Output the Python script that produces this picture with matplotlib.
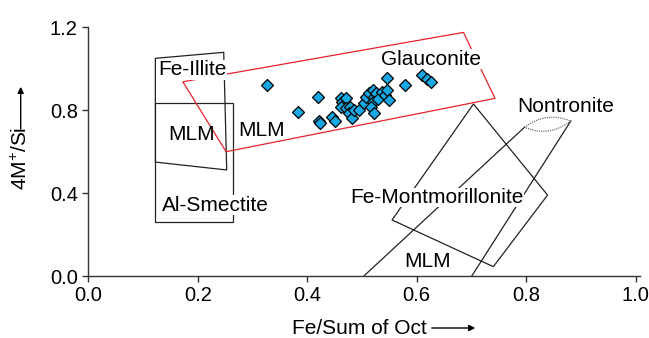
import matplotlib
matplotlib.use("Agg")
import matplotlib.pyplot as plt
from matplotlib.patches import Polygon, PathPatch, FancyArrowPatch
from matplotlib.path import Path

plt.rcParams['font.family'] = ['Liberation Sans', 'DejaVu Sans']
plt.rcParams['mathtext.fontset'] = 'custom'
plt.rcParams['mathtext.rm'] = 'Liberation Sans'
plt.rcParams['mathtext.default'] = 'regular'

# Sample points (Fe/Sum of Oct, 4M+/Si)
fe_oct = [0.326, 0.383, 0.420, 0.421, 0.424, 0.446, 0.451, 0.461, 0.464, 0.470,
          0.461, 0.470, 0.479, 0.476, 0.482, 0.485, 0.494, 0.504, 0.507, 0.513,
          0.520, 0.522, 0.525, 0.520, 0.516, 0.522, 0.530, 0.537, 0.542, 0.546,
          0.550, 0.546, 0.579, 0.610, 0.619, 0.627]
m_si = [0.920, 0.788, 0.865, 0.745, 0.735, 0.764, 0.747, 0.860, 0.840, 0.856,
        0.816, 0.808, 0.816, 0.784, 0.760, 0.800, 0.800, 0.835, 0.864, 0.880,
        0.896, 0.864, 0.880, 0.840, 0.816, 0.784, 0.852, 0.888, 0.872, 0.896,
        0.848, 0.953, 0.920, 0.969, 0.949, 0.937]

# Field boundaries (vertices in data units)
fe_illite = [(0.1227, 1.049), (0.2475, 1.078), (0.253, 0.511), (0.1227, 0.549)]
mlm_box = [(0.1227, 0.832), (0.2652, 0.832), (0.2652, 0.262), (0.1227, 0.262)]
glauconite = [(0.1729, 0.936), (0.6855, 1.174), (0.743, 0.856), (0.2519, 0.599)]
fe_mont = [(0.7037, 0.829), (0.839, 0.390), (0.740, 0.045), (0.555, 0.270)]
nontr_left = [(0.5035, 0.0), (0.797, 0.717)]
nontr_right = [(0.7006, 0.0), (0.8815, 0.747)]
# lens: left tip, upper control, right tip, lower control
nontr_lens = [(0.797, 0.717), (0.8366, 0.795), (0.8815, 0.747), (0.841, 0.666)]

# (text, x, y, masks lines behind it)
labels = [("Fe-Illite", 0.1905, 0.993, True), ("MLM", 0.188, 0.680, False),
          ("MLM", 0.3165, 0.701, False), ("Al-Smectite", 0.233, 0.342, True),
          ("Glauconite", 0.6267, 1.045, True), ("Nontronite", 0.8724, 0.816, True),
          ("Fe-Montmorillonite", 0.6364, 0.379, True), ("MLM", 0.620, 0.069, False)]

fig = plt.figure(figsize=(6.49, 3.38), dpi=100)
ax = fig.add_axes([0.1359, 0.1834, 0.8436 * 1.008, 0.7367])

for verts in (fe_illite, mlm_box, fe_mont):
    ax.add_patch(Polygon(verts, closed=True, fill=False, ec='#222222', lw=0.9, zorder=2))
ax.add_patch(Polygon(glauconite, closed=True, fill=False, ec='#e8232a', lw=0.9, zorder=2))
for ln in (nontr_left, nontr_right):
    ax.plot([p[0] for p in ln], [p[1] for p in ln], color='#222222', lw=0.9, zorder=2)

lens = Path([nontr_lens[0], nontr_lens[1], nontr_lens[2], nontr_lens[3], nontr_lens[0]],
            [Path.MOVETO, Path.CURVE3, Path.CURVE3, Path.CURVE3, Path.CURVE3])
ax.add_patch(PathPatch(lens, fill=False, ec='#555555', lw=0.8, ls=(0, (1, 1)), zorder=2))

ax.plot(fe_oct, m_si, 'D', ms=6.2, mfc='#17a8e3', mec='black', mew=0.9, zorder=4)

for txt, x, y, mask in labels:
    bb = dict(fc='white', ec='none', pad=0.1) if mask else None
    ax.text(x, y, txt, fontsize=15, ha='center', va='center', zorder=5, bbox=bb)

ax.set_xlim(0, 1.008)
ax.set_ylim(0, 1.2)
ax.set_xticks([0.0, 0.2, 0.4, 0.6, 0.8, 1.0])
ax.set_yticks([0.0, 0.4, 0.8, 1.2])
ax.xaxis.set_major_formatter(plt.FormatStrFormatter('%.1f'))
ax.yaxis.set_major_formatter(plt.FormatStrFormatter('%.1f'))
for s in ('top', 'right'):
    ax.spines[s].set_visible(False)
for s in ('left', 'bottom'):
    ax.spines[s].set_color('#333333')
    ax.spines[s].set_linewidth(1.0)
ax.tick_params(direction='out', length=4.5, width=1, color='#333333',
               labelsize=14.5, pad=3)

# axis titles with arrows
fig.text(291.7 / 649, 1 - 334 / 338, "Fe/Sum of Oct", fontsize=15,
         ha='left', va='baseline')
fig.add_artist(FancyArrowPatch(
    (429 / 649, 1 - 328 / 338), (478 / 649, 1 - 328 / 338),
    transform=fig.transFigure, arrowstyle='-|>', mutation_scale=9, lw=1, color='black'))
fig.text(21 / 649, 1 - 158.3 / 338, "4M$^{+}$/Si", fontsize=15, rotation=90,
         ha='center', va='center')
fig.add_artist(FancyArrowPatch(
    (20.7 / 649, 1 - 131.7 / 338), (20.7 / 649, 1 - 84 / 338),
    transform=fig.transFigure, arrowstyle='-|>', mutation_scale=9, lw=1, color='black'))

fig.savefig("out.png", dpi=100)
